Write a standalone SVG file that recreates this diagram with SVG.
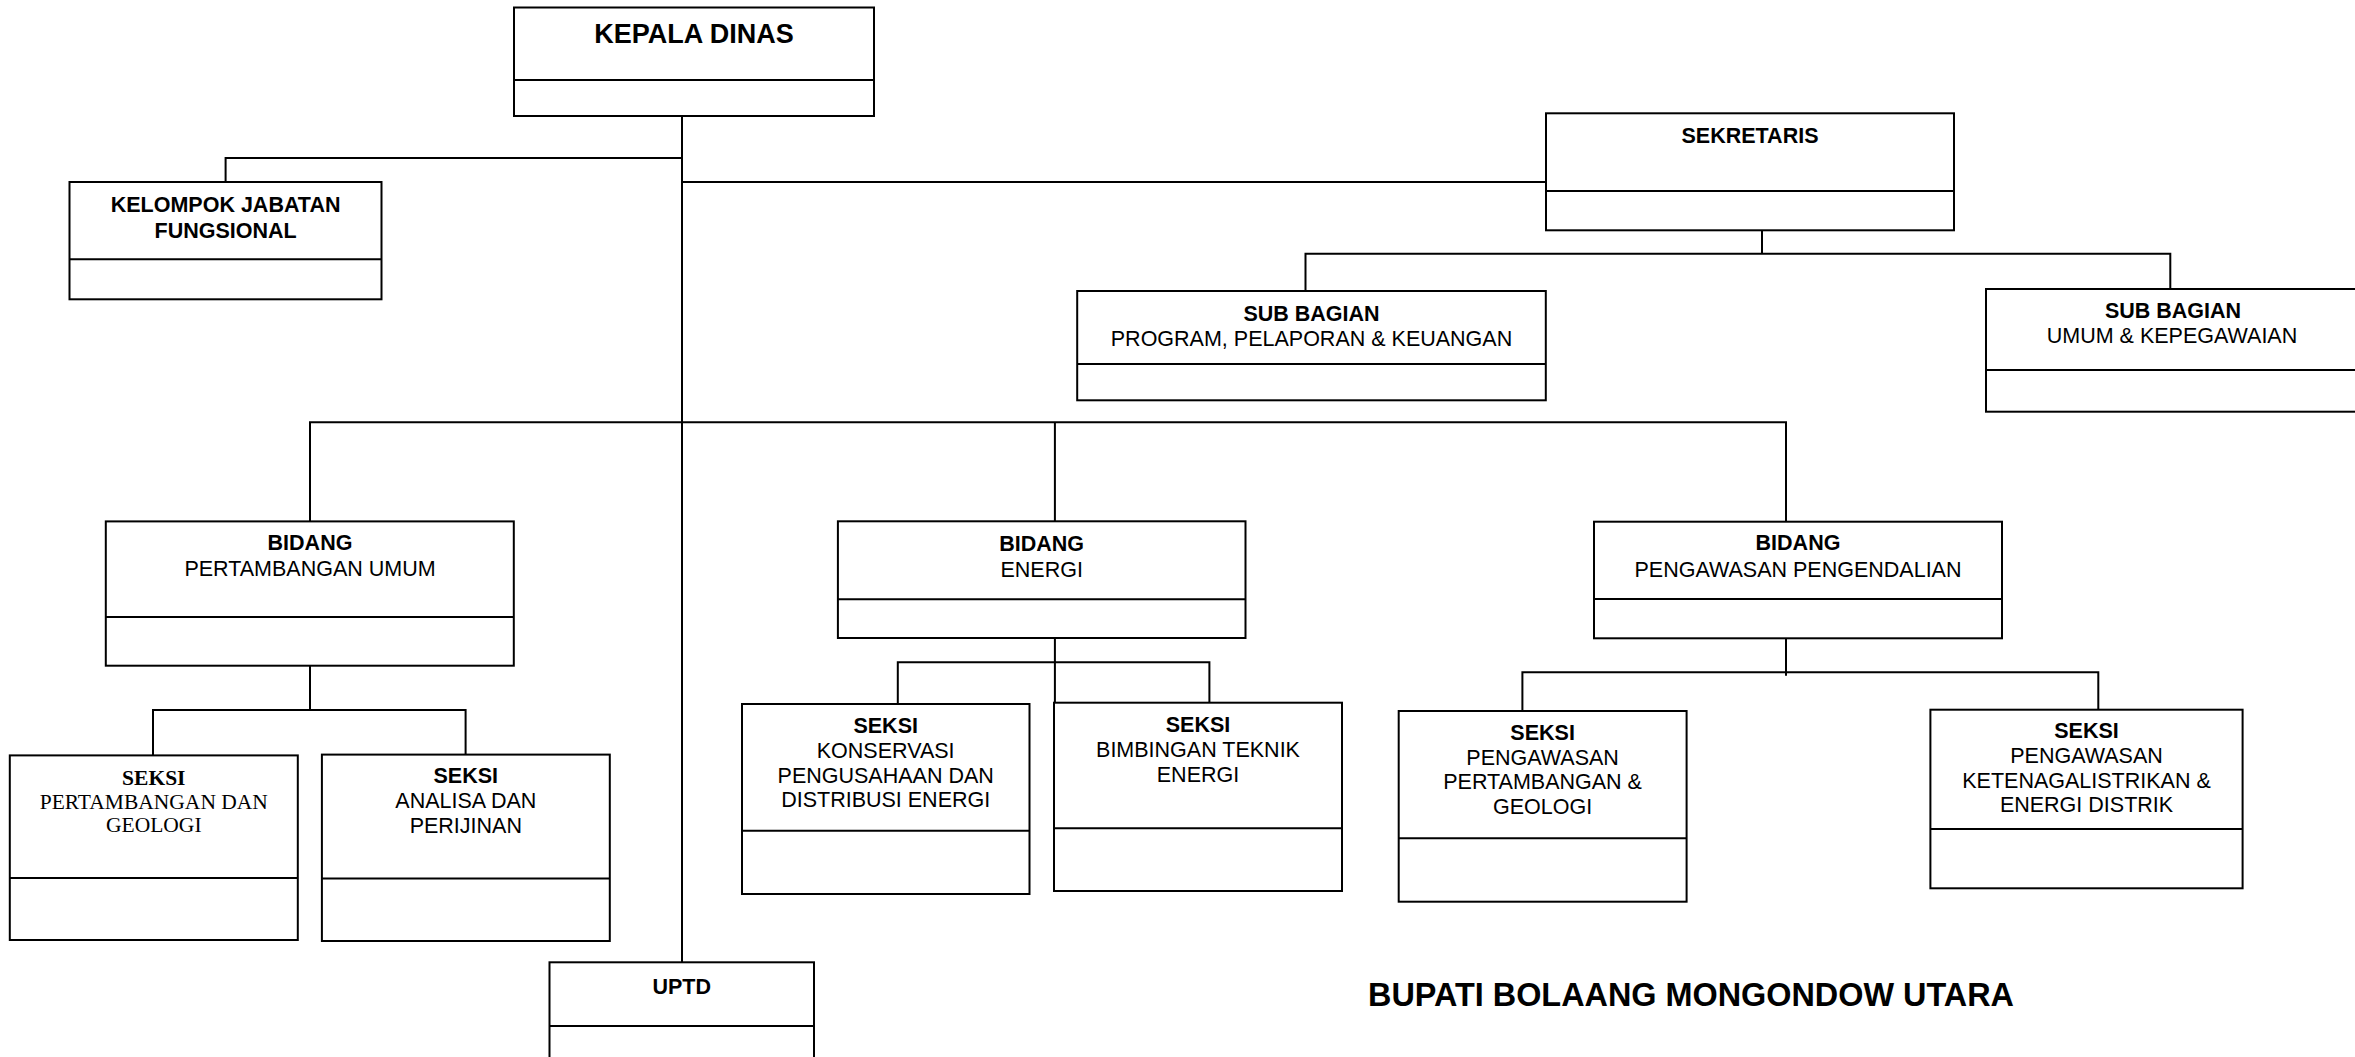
<svg xmlns="http://www.w3.org/2000/svg" width="2355" height="1057" viewBox="0 0 2355 1057">
<style>
.box{fill:#fff;stroke:#000;stroke-width:2}
.dv{stroke:#000;stroke-width:2}
.con{fill:none;stroke:#000;stroke-width:2}
text{font-family:"Liberation Sans",Arial,sans-serif;font-size:21.5px;fill:#000;text-anchor:middle}
.b{font-weight:bold}
.t{font-family:"Liberation Serif","Times New Roman",serif;font-size:21.5px}
</style>
<rect width="2355" height="1057" fill="#fff"/>
<g id="connectors">
<path class="con" d="M682 116V962"/>
<path class="con" d="M225.6 182V158H682"/>
<path class="con" d="M682 182H1546"/>
<path class="con" d="M1762 230V253.7M1305.5 291V253.7H2170.3V289"/>
<path class="con" d="M310 521.4V422.3H1786V521.7M1054.9 422.3V521.3"/>
<path class="con" d="M310 665.7V710M153 755.4V710H465.6V754.6"/>
<path class="con" d="M1054.9 638V702.7M897.8 704V662.3H1209.4V702.7"/>
<path class="con" d="M1786 638V675.7M1522.4 711V672.3H2098.3V709.7"/>
</g>
<g id="kepala-dinas">
<rect class="box" x="514" y="7.5" width="360" height="108.5"/>
<line class="dv" x1="514" y1="80" x2="874" y2="80"/>
<text class="b" x="694" y="43.3" style="font-size:27px">KEPALA DINAS</text>
</g>
<g id="kelompok-jabatan-fungsional">
<rect class="box" x="69.5" y="182" width="312" height="117.3"/>
<line class="dv" x1="69.5" y1="259.3" x2="381.5" y2="259.3"/>
<text class="b" x="225.6" y="212.3">KELOMPOK JABATAN</text>
<text class="b" x="225.6" y="237.7">FUNGSIONAL</text>
</g>
<g id="sekretaris">
<rect class="box" x="1546" y="113.3" width="408" height="117"/>
<line class="dv" x1="1546" y1="191" x2="1954" y2="191"/>
<text class="b" x="1750" y="143.3">SEKRETARIS</text>
</g>
<g id="sub-bagian-program">
<rect class="box" x="1077.2" y="291" width="468.6" height="109.3"/>
<line class="dv" x1="1077.2" y1="364" x2="1545.8" y2="364"/>
<text class="b" x="1311.5" y="320.7">SUB BAGIAN</text>
<text x="1311.5" y="345.7">PROGRAM, PELAPORAN &amp; KEUANGAN</text>
</g>
<g id="sub-bagian-umum">
<rect class="box" x="1986" y="289" width="400" height="122.7"/>
<line class="dv" x1="1986" y1="370" x2="2356" y2="370"/>
<text class="b" x="2173" y="318.3">SUB BAGIAN</text>
<text x="2172" y="343.3">UMUM &amp; KEPEGAWAIAN</text>
</g>
<g id="bidang-pertambangan-umum">
<rect class="box" x="105.8" y="521.4" width="408" height="144.3"/>
<line class="dv" x1="105.8" y1="617" x2="513.8" y2="617"/>
<text class="b" x="310" y="550">BIDANG</text>
<text x="310" y="575.7">PERTAMBANGAN UMUM</text>
</g>
<g id="bidang-energi">
<rect class="box" x="837.9" y="521.3" width="407.6" height="116.7"/>
<line class="dv" x1="837.9" y1="599.3" x2="1245.5" y2="599.3"/>
<text class="b" x="1041.7" y="550.7">BIDANG</text>
<text x="1041.7" y="576.7">ENERGI</text>
</g>
<g id="bidang-pengawasan-pengendalian">
<rect class="box" x="1594" y="521.7" width="408" height="116.6"/>
<line class="dv" x1="1594" y1="599" x2="2002" y2="599"/>
<text class="b" x="1798" y="550">BIDANG</text>
<text x="1798" y="576.7">PENGAWASAN PENGENDALIAN</text>
</g>
<g id="seksi-pertambangan-geologi">
<rect class="box" x="9.8" y="755.4" width="288" height="184.6"/>
<line class="dv" x1="9.8" y1="877.9" x2="297.8" y2="877.9"/>
<text class="t b" x="153.8" y="785">SEKSI</text>
<text class="t" x="153.8" y="808.5">PERTAMBANGAN DAN</text>
<text class="t" x="153.8" y="832">GEOLOGI</text>
</g>
<g id="seksi-analisa-perijinan">
<rect class="box" x="321.9" y="754.6" width="287.9" height="186.4"/>
<line class="dv" x1="321.9" y1="878.6" x2="609.8" y2="878.6"/>
<text class="b" x="465.8" y="783">SEKSI</text>
<text x="465.8" y="808">ANALISA DAN</text>
<text x="465.8" y="833">PERIJINAN</text>
</g>
<g id="seksi-konservasi">
<rect class="box" x="742" y="704" width="287.5" height="190"/>
<line class="dv" x1="742" y1="830.7" x2="1029.5" y2="830.7"/>
<text class="b" x="885.7" y="733.3">SEKSI</text>
<text x="885.7" y="758.3">KONSERVASI</text>
<text x="885.7" y="783.3">PENGUSAHAAN DAN</text>
<text x="885.7" y="807.3">DISTRIBUSI ENERGI</text>
</g>
<g id="seksi-bimbingan-teknik">
<rect class="box" x="1054" y="702.7" width="288" height="188.3"/>
<line class="dv" x1="1054" y1="828.3" x2="1342" y2="828.3"/>
<text class="b" x="1198" y="731.7">SEKSI</text>
<text x="1198" y="756.7">BIMBINGAN TEKNIK</text>
<text x="1198" y="781.7">ENERGI</text>
</g>
<g id="seksi-pengawasan-pertambangan">
<rect class="box" x="1398.7" y="711" width="287.9" height="190.7"/>
<line class="dv" x1="1398.7" y1="838.3" x2="1686.6" y2="838.3"/>
<text class="b" x="1542.6" y="740">SEKSI</text>
<text x="1542.6" y="765">PENGAWASAN</text>
<text x="1542.6" y="789.3">PERTAMBANGAN &amp;</text>
<text x="1542.6" y="814">GEOLOGI</text>
</g>
<g id="seksi-pengawasan-ketenagalistrikan">
<rect class="box" x="1930.4" y="709.7" width="312.2" height="178.6"/>
<line class="dv" x1="1930.4" y1="829" x2="2242.6" y2="829"/>
<text class="b" x="2086.5" y="738.3">SEKSI</text>
<text x="2086.5" y="763.3">PENGAWASAN</text>
<text x="2086.5" y="787.7">KETENAGALISTRIKAN &amp;</text>
<text x="2086.5" y="812.3">ENERGI DISTRIK</text>
</g>
<g id="uptd">
<rect class="box" x="549.5" y="962.3" width="264.5" height="120"/>
<line class="dv" x1="549.5" y1="1026" x2="814" y2="1026"/>
<text class="b" x="681.7" y="994">UPTD</text>
</g>
<g id="title">
<text class="b" x="1691" y="1005.5" style="font-size:32.4px">BUPATI BOLAANG MONGONDOW UTARA</text>
</g>
</svg>
